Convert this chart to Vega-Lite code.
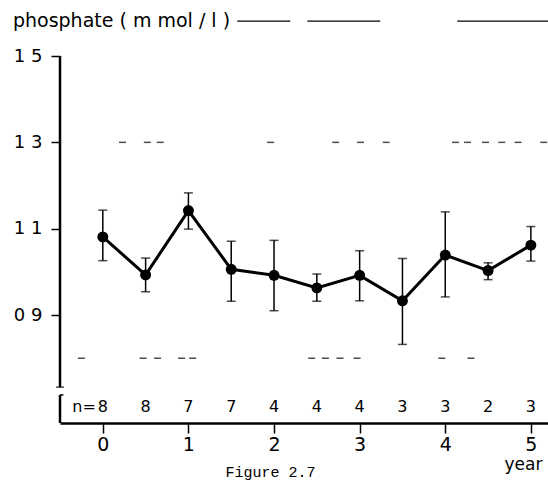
{
  "$schema": "https://vega.github.io/schema/vega-lite/v6.json",
  "autosize": "none",
  "width": 488,
  "height": 367,
  "padding": {"left": 60, "top": 56, "right": 0, "bottom": 58},
  "background": "white",
  "config": {
    "view": {"stroke": null},
    "font": "DejaVu Sans",
    "axis": {"grid": false, "labelColor": "black", "tickColor": "black", "domainColor": "black", "titleColor": "black", "labelFont": "DejaVu Sans", "titleFont": "DejaVu Sans"}
  },
  "datasets": {
    "stats": [
      {"year": 0, "mean": 1.081, "lo": 1.026, "hi": 1.143, "n": 8},
      {"year": 0.5, "mean": 0.993, "lo": 0.954, "hi": 1.032, "n": 8},
      {"year": 1, "mean": 1.142, "lo": 1.099, "hi": 1.183, "n": 7},
      {"year": 1.5, "mean": 1.006, "lo": 0.932, "hi": 1.071, "n": 7},
      {"year": 2, "mean": 0.992, "lo": 0.91, "hi": 1.073, "n": 4},
      {"year": 2.5, "mean": 0.963, "lo": 0.932, "hi": 0.995, "n": 4},
      {"year": 3, "mean": 0.992, "lo": 0.933, "hi": 1.049, "n": 4},
      {"year": 3.5, "mean": 0.933, "lo": 0.832, "hi": 1.031, "n": 3},
      {"year": 4, "mean": 1.039, "lo": 0.942, "hi": 1.139, "n": 3},
      {"year": 4.5, "mean": 1.003, "lo": 0.982, "hi": 1.021, "n": 2},
      {"year": 5, "mean": 1.062, "lo": 1.025, "hi": 1.105, "n": 3}
    ],
    "dashes": [
      {"year": 0.23, "level": 1.3}, {"year": 0.52, "level": 1.3}, {"year": 0.67, "level": 1.3},
      {"year": 1.96, "level": 1.3}, {"year": 2.72, "level": 1.3}, {"year": 3.01, "level": 1.3},
      {"year": 3.31, "level": 1.3}, {"year": 4.12, "level": 1.3}, {"year": 4.26, "level": 1.3},
      {"year": 4.47, "level": 1.3}, {"year": 4.66, "level": 1.3}, {"year": 4.85, "level": 1.3},
      {"year": 5.15, "level": 1.3},
      {"year": -0.25, "level": 0.8}, {"year": 0.47, "level": 0.8}, {"year": 0.64, "level": 0.8},
      {"year": 0.92, "level": 0.8}, {"year": 1.05, "level": 0.8}, {"year": 2.44, "level": 0.8},
      {"year": 2.6, "level": 0.8}, {"year": 2.77, "level": 0.8}, {"year": 2.97, "level": 0.8},
      {"year": 3.96, "level": 0.8}, {"year": 4.3, "level": 0.8}
    ],
    "bars": [
      {"start": 1.57, "end": 2.19},
      {"start": 2.39, "end": 3.24},
      {"start": 4.14, "end": 5.2}
    ]
  },
  "layer": [
    {
      "data": {"name": "stats"},
      "mark": {"type": "rule", "color": "black", "strokeWidth": 1.5},
      "encoding": {
        "x": {"field": "year", "type": "quantitative",
          "scale": {"domain": [-0.5, 5.2], "nice": false, "zero": false},
          "axis": {"values": [0, 1, 2, 3, 4, 5], "format": "d", "title": "year", "titleAnchor": "end", "titleAlign": "right", "titleX": 482, "titleFontSize": 17, "titleFontWeight": "normal", "titlePadding": 2, "labelFontSize": 19, "labelPadding": 2, "tickSize": 10, "tickWidth": 1.5, "domainWidth": 2.5, "labelFlush": false}},
        "y": {"field": "lo", "type": "quantitative",
          "scale": {"domain": [0.65, 1.5], "nice": false, "zero": false},
          "axis": {"values": [0.9, 1.1, 1.3, 1.5], "title": null, "domain": false, "tickSize": 9, "tickWidth": 1.5, "labelFontSize": 18, "labelPadding": 9, "labelExpr": "replace(format(datum.value, '.1f'), '.', ' ')"}},
        "y2": {"field": "hi"}
      }
    },
    {
      "data": {"name": "stats"},
      "mark": {"type": "tick", "orient": "horizontal", "color": "black", "size": 9, "thickness": 1.5},
      "encoding": {
        "x": {"field": "year", "type": "quantitative"},
        "y": {"field": "lo", "type": "quantitative"}
      }
    },
    {
      "data": {"name": "stats"},
      "mark": {"type": "tick", "orient": "horizontal", "color": "black", "size": 9, "thickness": 1.5},
      "encoding": {
        "x": {"field": "year", "type": "quantitative"},
        "y": {"field": "hi", "type": "quantitative"}
      }
    },
    {
      "data": {"name": "stats"},
      "mark": {"type": "line", "color": "black", "strokeWidth": 3},
      "encoding": {
        "x": {"field": "year", "type": "quantitative"},
        "y": {"field": "mean", "type": "quantitative"}
      }
    },
    {
      "data": {"name": "stats"},
      "mark": {"type": "point", "filled": true, "color": "black", "opacity": 1, "size": 120},
      "encoding": {
        "x": {"field": "year", "type": "quantitative"},
        "y": {"field": "mean", "type": "quantitative"}
      }
    },
    {
      "data": {"name": "dashes"},
      "mark": {"type": "tick", "orient": "horizontal", "color": "black", "size": 7, "thickness": 1.5},
      "encoding": {
        "x": {"field": "year", "type": "quantitative"},
        "y": {"field": "level", "type": "quantitative"}
      }
    },
    {
      "data": {"name": "bars"},
      "mark": {"type": "rule", "color": "black", "strokeWidth": 1.2},
      "encoding": {
        "x": {"field": "start", "type": "quantitative"},
        "x2": {"field": "end"},
        "y": {"datum": 1.581, "type": "quantitative"}
      }
    },
    {
      "data": {"name": "stats"},
      "mark": {"type": "text", "color": "black", "fontSize": 16, "baseline": "middle"},
      "encoding": {
        "x": {"field": "year", "type": "quantitative"},
        "y": {"datum": 0.687, "type": "quantitative"},
        "text": {"field": "n", "type": "quantitative"}
      }
    },
    {
      "data": {"values": [{}]},
      "mark": {"type": "text", "color": "black", "fontSize": 16, "baseline": "middle", "align": "right", "dx": -7, "text": "n="},
      "encoding": {
        "x": {"datum": 0, "type": "quantitative"},
        "y": {"datum": 0.687, "type": "quantitative"}
      }
    },
    {
      "data": {"values": [{}]},
      "mark": {"type": "rule", "color": "black", "strokeWidth": 2.5},
      "encoding": {
        "x": {"datum": -0.5, "type": "quantitative"},
        "y": {"datum": 0.733, "type": "quantitative"},
        "y2": {"datum": 1.5}
      }
    },
    {
      "data": {"values": [{}]},
      "mark": {"type": "rule", "color": "black", "strokeWidth": 2.5},
      "encoding": {
        "x": {"datum": -0.5, "type": "quantitative"},
        "y": {"datum": 0.65, "type": "quantitative"},
        "y2": {"datum": 0.715}
      }
    },
    {
      "data": {"values": [{}]},
      "mark": {"type": "tick", "orient": "horizontal", "color": "black", "size": 8, "thickness": 1.5},
      "encoding": {
        "x": {"datum": -0.5, "type": "quantitative"},
        "y": {"datum": 0.733, "type": "quantitative"}
      }
    },
    {
      "data": {"values": [{}]},
      "mark": {"type": "rule", "color": "black", "strokeWidth": 1.5},
      "encoding": {
        "x": {"datum": -0.5, "type": "quantitative"},
        "x2": {"datum": -0.46},
        "y": {"datum": 0.715, "type": "quantitative"}
      }
    },
    {
      "data": {"values": [{}]},
      "mark": {"type": "text", "color": "black", "fontSize": 19, "baseline": "middle", "align": "left", "text": "phosphate ( m mol / l )"},
      "encoding": {
        "x": {"datum": -1.05, "type": "quantitative"},
        "y": {"datum": 1.581, "type": "quantitative"}
      }
    },
    {
      "data": {"values": [{}]},
      "mark": {"type": "text", "color": "black", "fontSize": 15, "font": "Liberation Mono", "baseline": "bottom", "align": "center", "text": "Figure 2.7"},
      "encoding": {
        "x": {"datum": 1.96, "type": "quantitative"},
        "y": {"datum": 0.518, "type": "quantitative"}
      }
    }
  ]
}
